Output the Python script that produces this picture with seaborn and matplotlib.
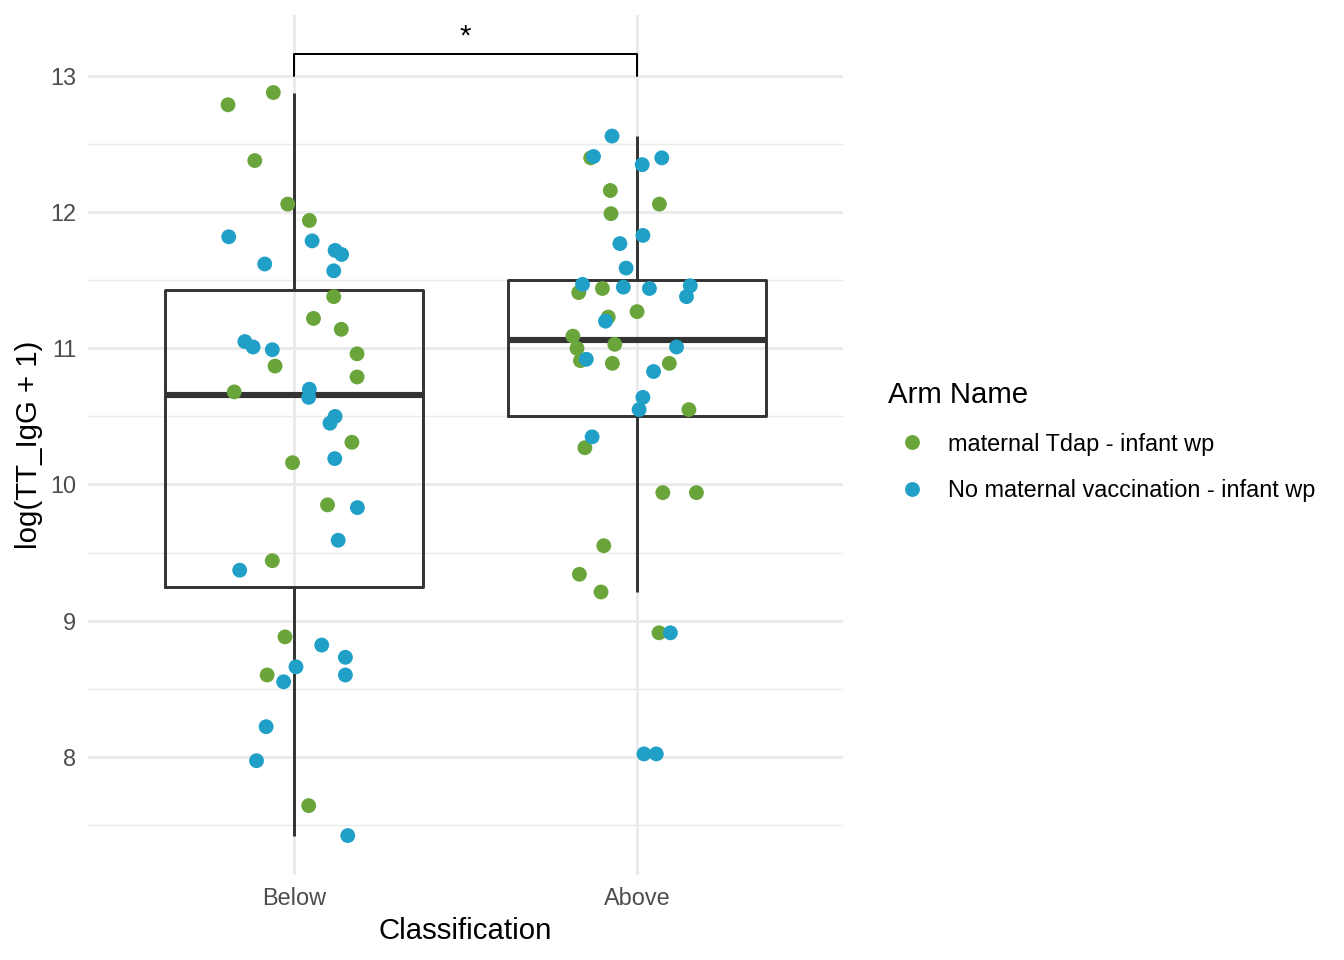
import pandas as pd
import matplotlib
matplotlib.use('Agg')
import matplotlib.pyplot as plt
from matplotlib.ticker import MultipleLocator
import seaborn as sns
import numpy as np

# classes and arms
classes = ['Below', 'Above']
arms = ['maternal Tdap - infant wp', 'No maternal vaccination - infant wp']
arm_colors = ['#6aa53c', '#21a0c7']

# log(TT_IgG + 1), with the horizontal jitter of each point
below_tdap_y = [12.88, 12.79, 12.38, 12.06, 11.94, 11.38, 11.22, 11.14, 10.96, 10.87,
                10.79, 10.68, 10.31, 10.16, 9.85, 9.44, 8.88, 8.60, 7.64]
below_tdap_jit = [-0.060, -0.192, -0.114, -0.018, 0.045, 0.116, 0.057, 0.138, 0.184, -0.055,
                  0.184, -0.174, 0.169, -0.004, 0.098, -0.063, -0.026, -0.078, 0.043]

below_none_y = [11.82, 11.79, 11.72, 11.69, 11.62, 11.57, 11.05, 11.01, 10.99, 10.70,
                10.64, 10.50, 10.45, 10.19, 9.83, 9.59, 9.37, 8.82, 8.73, 8.66,
                8.60, 8.55, 8.22, 7.97, 7.42]
below_none_jit = [-0.190, 0.053, 0.120, 0.139, -0.085, 0.116, -0.143, -0.119, -0.063, 0.045,
                  0.043, 0.120, 0.105, 0.119, 0.185, 0.129, -0.158, 0.081, 0.150, 0.006,
                  0.150, -0.030, -0.081, -0.109, 0.157]

above_tdap_y = [12.40, 12.16, 12.06, 11.99, 11.41, 11.44, 11.27, 11.23, 11.09, 11.00,
                11.03, 10.91, 10.89, 10.89, 10.55, 10.27, 9.94, 9.94, 9.55, 9.34,
                9.21, 8.91]
above_tdap_jit = [-0.135, -0.078, 0.065, -0.076, -0.170, -0.101, 0.000, -0.084, -0.187, -0.175,
                  -0.065, -0.165, -0.072, 0.094, 0.151, -0.152, 0.075, 0.173, -0.097, -0.168,
                  -0.105, 0.064]

above_none_y = [12.56, 12.41, 12.35, 12.40, 11.83, 11.77, 11.59, 11.47, 11.45, 11.44,
                11.46, 11.38, 11.20, 11.01, 10.92, 10.83, 10.64, 10.55, 10.35, 8.91,
                8.02, 8.02]
above_none_jit = [-0.073, -0.127, 0.015, 0.072, 0.017, -0.050, -0.032, -0.159, -0.040, 0.036,
                  0.155, 0.144, -0.092, 0.115, -0.148, 0.048, 0.017, 0.006, -0.131, 0.097,
                  0.020, 0.056]

# build long table (tdap first so the blue points sit on top)
rows = []
for cls, arm, ys, js in [('Below', arms[0], below_tdap_y, below_tdap_jit),
                         ('Above', arms[0], above_tdap_y, above_tdap_jit),
                         ('Below', arms[1], below_none_y, below_none_jit),
                         ('Above', arms[1], above_none_y, above_none_jit)]:
    for y, j in zip(ys, js):
        rows.append({'Classification': cls, 'Arm Name': arm, 'value': y, 'jitter': j})
df = pd.DataFrame(rows)
df['xpos'] = df['Classification'].map({c: i for i, c in enumerate(classes)}) + df['jitter']

sns.set_style('white')
plt.rcParams['font.family'] = ['Liberation Sans', 'DejaVu Sans']
plt.rcParams['text.color'] = 'black'
plt.rcParams['axes.labelcolor'] = 'black'

fig = plt.figure(figsize=(7, 5), dpi=192)
ax = fig.add_axes([0.0655, 0.0885, 0.5617, 0.8955])

sns.boxplot(data=df, x='Classification', y='value', order=classes, width=0.75,
            fill=False, color='#333333', linecolor='#333333', linewidth=1.1,
            showfliers=False, showcaps=False,
            medianprops=dict(linewidth=2.3), ax=ax, zorder=2)

sns.scatterplot(data=df, x='xpos', y='value', hue='Arm Name', hue_order=arms,
                palette=arm_colors, s=31, linewidth=0, ax=ax, zorder=3)

# significance bracket
ax.plot([0, 0, 1, 1], [13.0, 13.16, 13.16, 13.0], color='black', lw=0.75, zorder=3)
ax.text(0.5, 13.235, '*', ha='center', va='baseline', fontsize=11, color='black')

ax.set_xlim(-0.6, 1.6)
ax.set_ylim(7.13, 13.447)
ax.set_xticks([0, 1])
ax.set_xticklabels(classes)
ax.set_yticks(np.arange(8, 14, 1))
ax.yaxis.set_minor_locator(MultipleLocator(0.5))

# Set up grid
ax.set_axisbelow(True)
ax.grid(which='major', color='#EBEBEB', linewidth=1.1)
ax.grid(which='minor', axis='y', color='#EBEBEB', linewidth=0.55)
for s in ax.spines.values():
    s.set_visible(False)
ax.tick_params(which='both', length=0, pad=4.5, labelsize=8.8, labelcolor='#4D4D4D')

ax.set_xlabel('Classification', fontsize=11, labelpad=2.75, color='black')
ax.set_ylabel('log(TT_IgG + 1)', fontsize=11, labelpad=2.75, color='black')

handles, labels = ax.get_legend_handles_labels()
ax.get_legend().remove()
leg = fig.legend(handles, labels, title='Arm Name', loc='center left',
                 bbox_to_anchor=(0.661, 0.54), frameon=False, fontsize=8.8,
                 title_fontsize=11, alignment='left', borderpad=0, borderaxespad=0,
                 handletextpad=0.55, labelspacing=1.0, markerscale=1.0)
for t in leg.get_texts():
    t.set_color('black')
leg.get_title().set_color('black')

plt.savefig('out.png', dpi=192)
